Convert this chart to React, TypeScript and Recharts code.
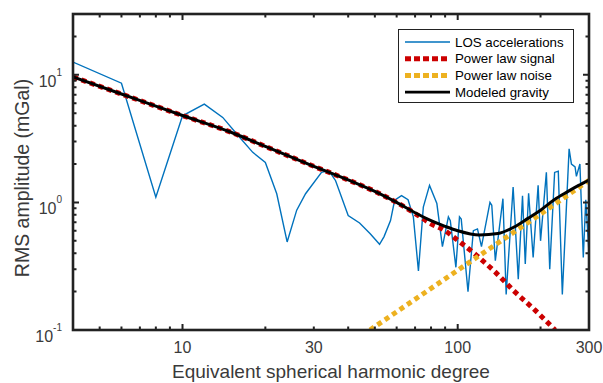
import { Line, LineChart, XAxis, YAxis } from "recharts"

// LOS accelerations (blue)
const losDegrees = [
  4, 6, 8, 10, 12, 14, 16, 18, 20, 22, 24, 26, 28, 32, 34, 36, 40, 44, 48, 52, 54, 57, 59, 62.5, 66, 69, 72, 75, 79,
  84, 88, 92.5, 94, 98.5, 101.5, 103, 109, 114, 118, 122, 131, 133, 137, 146, 150, 159, 166, 172, 176, 181, 188, 196,
  200, 210, 216, 225, 232, 240, 254, 259, 267, 270, 278, 286, 292, 300,
]
const losValues = [
  12.6, 8.6, 1.1, 4.78, 5.9, 4.64, 3.3, 2.47, 2.06, 1.17, 0.49, 0.87, 1.17, 1.72, 1.78, 1.48, 0.79, 0.69, 0.57, 0.47,
  0.54, 0.72, 1.04, 1.13, 1.05, 0.77, 0.29, 0.92, 1.36, 0.98, 0.45, 0.77, 0.72, 0.31, 0.77, 0.74, 0.2, 0.6, 0.62, 0.45,
  1.0, 0.95, 0.35, 1.07, 0.19, 1.32, 0.25, 1.13, 0.33, 1.18, 0.37, 1.36, 0.5, 1.72, 0.3, 1.72, 1.76, 0.19, 2.63, 2.0,
  1.9, 1.6, 2.0, 0.37, 1.05, 0.4,
]

// power law signal (red)
const signalDegrees = [4, 6, 8, 10, 15, 20, 30, 40, 50, 60, 70, 80, 90, 100, 117, 137, 161, 191, 226]
const signalValues = [9.63, 7.08, 5.68, 4.8, 3.55, 2.75, 1.92, 1.5, 1.22, 1.0, 0.82, 0.68, 0.6, 0.505, 0.385, 0.284, 0.2, 0.143, 0.1]

// power law noise (yellow)
const noiseDegrees = [48, 100, 200, 300]
const noiseValues = [0.1, 0.294, 0.81, 1.49]

// modeled gravity (black)
const modelDegrees = [4, 6, 8, 10, 15, 20, 30, 40, 50, 60, 70, 80, 90, 100, 120, 140, 160, 180, 200, 225, 250, 275, 300]
const modelValues = [
  9.63, 7.08, 5.68, 4.8, 3.55, 2.75, 1.92, 1.5, 1.22, 1.0, 0.83, 0.72, 0.65, 0.6, 0.555, 0.57, 0.64, 0.75, 0.87, 1.055,
  1.21, 1.36, 1.5,
]

const xDomain = [4, 300]
const yDomain = [0.1, 30]
const xTicks = [4, 5, 6, 7, 8, 9, 10, 20, 30, 40, 50, 60, 70, 80, 90, 100, 200, 300]
const xLabels = [10, 30, 100, 300]
const xMajor = [10, 100]
const yTicks = [0.1, 0.2, 0.3, 0.4, 0.5, 0.6, 0.7, 0.8, 0.9, 1, 2, 3, 4, 5, 6, 7, 8, 9, 10, 20, 30]
const yLabels: Record<string, string> = { "0.1": "-1", "1": "0", "10": "1" }

const toRows = (xs: number[], ys: number[]) => xs.map((deg, i) => ({ deg, v: ys[i] }))
const losData = toRows(losDegrees, losValues)
const signalData = toRows(signalDegrees, signalValues)
const noiseData = toRows(noiseDegrees, noiseValues)
const modelData = toRows(modelDegrees, modelValues)

const W = 603
const H = 383
const margin = { top: 14, right: 14, bottom: 0, left: 0 }
const yAxisWidth = 73
const xAxisHeight = 53
// plot box implied by the margins and axis sizes above
const box = {
  left: margin.left + yAxisWidth,
  right: W - margin.right,
  top: margin.top,
  bottom: H - margin.bottom - xAxisHeight,
}

const font = "'Liberation Sans', Arial, Helvetica, sans-serif"
const axisColor = "#222222"
const textColor = "#3a3a3a"
const BLUE = "#0072BD"
const RED = "#CC0000"
const YELLOW = "#EDB120"
const TICK_OFFSET = 8 // default tickSize 6 + tickMargin 2

function XTickLabel(props: any) {
  const { x, y, payload } = props
  if (!xLabels.includes(payload.value)) return <g />
  return (
    <text x={x} y={y - TICK_OFFSET + 23} textAnchor="middle" fontSize={16} fill={textColor} fontFamily={font}>
      {payload.value}
    </text>
  )
}

function YTickLabel(props: any) {
  const { x, y, payload } = props
  const exp = yLabels[String(payload.value)]
  if (exp === undefined) return <g />
  return (
    <text x={x + TICK_OFFSET - 11} y={y + 12} textAnchor="end" fontSize={16} fill={textColor} fontFamily={font}>
      10
      <tspan dy={-11} fontSize={10}>
        {exp}
      </tspan>
    </text>
  )
}

// log positions for the box ticks (same domains as the axes)
const logPos = (v: number, d: number[], a: number, b: number) =>
  a + ((Math.log10(v) - Math.log10(d[0])) / (Math.log10(d[1]) - Math.log10(d[0]))) * (b - a)

const legendItems = [
  { name: "LOS accelerations", color: BLUE, width: 1.5, dash: undefined },
  { name: "Power law signal", color: RED, width: 5, dash: "6 3" },
  { name: "Power law noise", color: YELLOW, width: 5, dash: "6 3" },
  { name: "Modeled gravity", color: "#000", width: 2.8, dash: undefined },
]

export default function App() {
  return (
    <div style={{ position: "absolute", left: 0, top: 0, width: W, height: H, background: "#fff" }}>
      <LineChart width={W} height={H} margin={margin}>
        <XAxis
          xAxisId="b"
          dataKey="deg"
          type="number"
          scale="log"
          domain={xDomain}
          allowDataOverflow
          ticks={xTicks}
          interval={0}
          tick={<XTickLabel />}
          tickLine={false}
          height={xAxisHeight}
          axisLine={false}
        />
        <YAxis
          yAxisId="l"
          dataKey="v"
          type="number"
          scale="log"
          domain={yDomain}
          allowDataOverflow
          ticks={yTicks}
          interval={0}
          tick={<YTickLabel />}
          tickLine={false}
          width={yAxisWidth}
          axisLine={false}
        />
        <Line
          xAxisId="b"
          yAxisId="l"
          data={losData}
          dataKey="v"
          stroke={BLUE}
          strokeWidth={1.4}
          dot={false}
          isAnimationActive={false}
        />
        <Line
          xAxisId="b"
          yAxisId="l"
          data={signalData}
          dataKey="v"
          type="monotone"
          stroke={RED}
          strokeWidth={5}
          strokeDasharray="5 4"
          dot={false}
          isAnimationActive={false}
        />
        <Line
          xAxisId="b"
          yAxisId="l"
          data={noiseData}
          dataKey="v"
          stroke={YELLOW}
          strokeWidth={5}
          strokeDasharray="5 4"
          dot={false}
          isAnimationActive={false}
        />
        <Line
          xAxisId="b"
          yAxisId="l"
          data={modelData}
          dataKey="v"
          type="monotone"
          stroke="#000"
          strokeWidth={3}
          dot={false}
          isAnimationActive={false}
        />
      </LineChart>
      {/* axes box with inward ticks, axis titles and legend */}
      <svg
        width={W}
        height={H}
        style={{ position: "absolute", left: 0, top: 0, pointerEvents: "none" }}
        fontFamily={font}
      >
        <rect
          x={box.left}
          y={box.top}
          width={box.right - box.left}
          height={box.bottom - box.top}
          fill="none"
          stroke={axisColor}
          strokeWidth={2.6}
        />
        {xTicks.map((v) => {
          const px = logPos(v, xDomain, box.left, box.right)
          const len = xMajor.includes(v) ? 6 : 3.5
          return (
            <path
              key={`xt${v}`}
              d={`M${px},${box.bottom}V${box.bottom - len}M${px},${box.top}V${box.top + len}`}
              stroke={axisColor}
              strokeWidth={2}
            />
          )
        })}
        {yTicks.map((v) => {
          const py = logPos(v, yDomain, box.bottom, box.top)
          const len = yLabels[String(v)] !== undefined ? 6 : 3.5
          return (
            <path
              key={`yt${v}`}
              d={`M${box.left},${py}H${box.left + len}M${box.right},${py}H${box.right - len}`}
              stroke={axisColor}
              strokeWidth={2}
            />
          )
        })}
        <text x={331} y={378} textAnchor="middle" fontSize={19} fill={textColor}>
          Equivalent spherical harmonic degree
        </text>
        <text transform="translate(29,178) rotate(-90)" textAnchor="middle" fontSize={19.5} fill={textColor}>
          RMS amplitude (mGal)
        </text>
        <rect x={398.5} y={29.5} width={175} height={73} fill="#fff" stroke={axisColor} strokeWidth={1} />
        {legendItems.map((it, i) => {
          const cy = 42 + i * 16.7
          return (
            <g key={it.name}>
              <line x1={405} x2={450} y1={cy} y2={cy} stroke={it.color} strokeWidth={it.width} strokeDasharray={it.dash} />
              <text x={455} y={cy + 4.7} fontSize={13.3} fill="#000">
                {it.name}
              </text>
            </g>
          )
        })}
      </svg>
    </div>
  )
}
